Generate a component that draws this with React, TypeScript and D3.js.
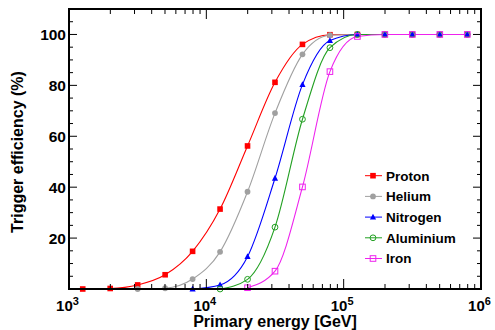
import React from "react";
import * as d3 from "d3";

// energies in GeV, log10 = 3.1, 3.3, ... 5.9
const energies = [1259, 1995, 3162, 5012, 7943, 12589, 19953, 31623, 50119, 79433, 125893, 199526, 316228, 501187, 794328];

// trigger efficiency (%) per primary, each series ends at the last energy
const proton = [0, 0.2, 1.6, 5.6, 14.8, 31.4, 56.2, 81.2, 96.1, 99.9, 100, 100, 100, 100, 100];
const helium = [0, 0.3, 3.9, 14.6, 38.2, 69.1, 92.2, 99.7, 100, 100, 100, 100, 100];
const nitrogen = [0, 1.6, 12.7, 43.5, 80.3, 97.6, 100, 100, 100, 100, 100];
const aluminium = [0, 3.8, 24.3, 66.7, 94.8, 100, 100, 100, 100, 100];
const iron = [0.5, 7, 40.1, 85.4, 99.2, 100, 100, 100, 100];

const seriesNames = ["Proton", "Helium", "Nitrogen", "Aluminium", "Iron"];
const seriesValues = [proton, helium, nitrogen, aluminium, iron];
const seriesColors = ["#ff0000", "#a0a0a0", "#0000ff", "#22a022", "#ee22ee"];
const seriesMarkers = ["square", "circle", "triangle", "opencircle", "opensquare"];

const yTicks = [20, 40, 60, 80, 100];
const xDecades = [3, 4, 5, 6];

const W = 495;
const H = 330;
const L = 69, R = 481, T = 9, B = 289;
const FONT = "'Liberation Sans', Arial, Helvetica, sans-serif";

function Marker({ kind, x, y, color }) {
  const s = 2.8;
  if (kind === "square")
    return <rect x={x - s} y={y - s} width={2 * s} height={2 * s} fill={color} />;
  if (kind === "opensquare")
    return <rect x={x - s} y={y - s} width={2 * s} height={2 * s} fill="none" stroke={color} strokeWidth={1} />;
  if (kind === "circle") return <circle cx={x} cy={y} r={2.9} fill={color} />;
  if (kind === "opencircle") return <circle cx={x} cy={y} r={2.9} fill="none" stroke={color} strokeWidth={1} />;
  // triangle
  const p = `${x},${y - 3.4} ${x - 3.1},${y + 2.4} ${x + 3.1},${y + 2.4}`;
  return <polygon points={p} fill={color} />;
}

export default function App() {
  const x = d3.scaleLog().domain([1e3, 1e6]).range([L, R]);
  const y = d3.scaleLinear().domain([0, 110]).range([B, T]);

  const line = d3
    .line<[number, number]>()
    .x((d) => x(d[0]))
    .y((d) => y(d[1]))
    .curve(d3.curveMonotoneX);

  // minor ticks on x (2..9 x 10^n)
  const xMinor: number[] = [];
  for (let e = 3; e < 6; e++) for (let k = 2; k <= 9; k++) xMinor.push(k * Math.pow(10, e));
  const yMinor = d3.range(0, 111, 5).filter((v) => v % 20 !== 0 && v < 110);

  const series = seriesValues.map((vals, i) => {
    const offset = energies.length - vals.length;
    const pts = vals.map((v, j) => [energies[j + offset], v] as [number, number]);
    return { name: seriesNames[i], color: seriesColors[i], marker: seriesMarkers[i], pts };
  });

  return (
    <svg
      width={W}
      height={H}
      style={{ position: "absolute", left: 0, top: 0, background: "#fff" }}
      fontFamily={FONT}
      fontWeight="bold"
    >
      <rect x={0} y={0} width={W} height={H} fill="#fff" />

      {/* curves */}
      {series.map((s) => (
        <path key={s.name + "l"} d={line(s.pts) || ""} fill="none" stroke={s.color} strokeWidth={1.1} />
      ))}
      {/* markers */}
      {series.map((s) =>
        s.pts.map((p, j) => (
          <Marker key={s.name + j} kind={s.marker} x={x(p[0])} y={y(p[1])} color={s.color} />
        ))
      )}

      {/* ticks */}
      <g stroke="#000" strokeWidth={1}>
        {xMinor.map((v) => (
          <g key={"xm" + v}>
            <line x1={x(v)} x2={x(v)} y1={B} y2={B - 5} />
            <line x1={x(v)} x2={x(v)} y1={T} y2={T + 5} />
          </g>
        ))}
        {xDecades.map((e) => (
          <g key={"xM" + e}>
            <line x1={x(Math.pow(10, e))} x2={x(Math.pow(10, e))} y1={B} y2={B - 10} />
            <line x1={x(Math.pow(10, e))} x2={x(Math.pow(10, e))} y1={T} y2={T + 10} />
          </g>
        ))}
        {yMinor.map((v) => (
          <g key={"ym" + v}>
            <line x1={L} x2={L + 4} y1={y(v)} y2={y(v)} />
            <line x1={R} x2={R - 4} y1={y(v)} y2={y(v)} />
          </g>
        ))}
        {yTicks.map((v) => (
          <g key={"yM" + v}>
            <line x1={L} x2={L + 8} y1={y(v)} y2={y(v)} />
            <line x1={R} x2={R - 8} y1={y(v)} y2={y(v)} />
          </g>
        ))}
      </g>

      {/* frame */}
      <rect x={L} y={T} width={R - L} height={B - T} fill="none" stroke="#000" strokeWidth={2} />

      {/* y tick labels */}
      {yTicks.map((v) => (
        <text key={"yl" + v} x={L - 3} y={y(v)} dy="0.36em" textAnchor="end" fontSize={15.5}>
          {v}
        </text>
      ))}

      {/* x tick labels */}
      {xDecades.map((e) => (
        <text key={"xl" + e} x={x(Math.pow(10, e)) - 1.5} y={311} textAnchor="middle" fontSize={15}>
          10
          <tspan fontSize={11} dy={-6}>
            {e}
          </tspan>
        </text>
      ))}

      {/* axis titles */}
      <text x={(L + R) / 2} y={327} textAnchor="middle" fontSize={16}>
        Primary energy [GeV]
      </text>
      <text transform={`translate(22.5,${152}) rotate(-90)`} textAnchor="middle" fontSize={16}>
        Trigger efficiency (%)
      </text>

      {/* legend */}
      {series.map((s, i) => {
        const ly = 175.7 + i * 20.7;
        return (
          <g key={"lg" + s.name}>
            <line x1={365} x2={382} y1={ly} y2={ly} stroke={s.color} strokeWidth={1} />
            <Marker kind={s.marker} x={373} y={ly} color={s.color} />
            <text x={386} y={ly} dy="0.36em" fontSize={13.5}>
              {s.name}
            </text>
          </g>
        );
      })}
    </svg>
  );
}
